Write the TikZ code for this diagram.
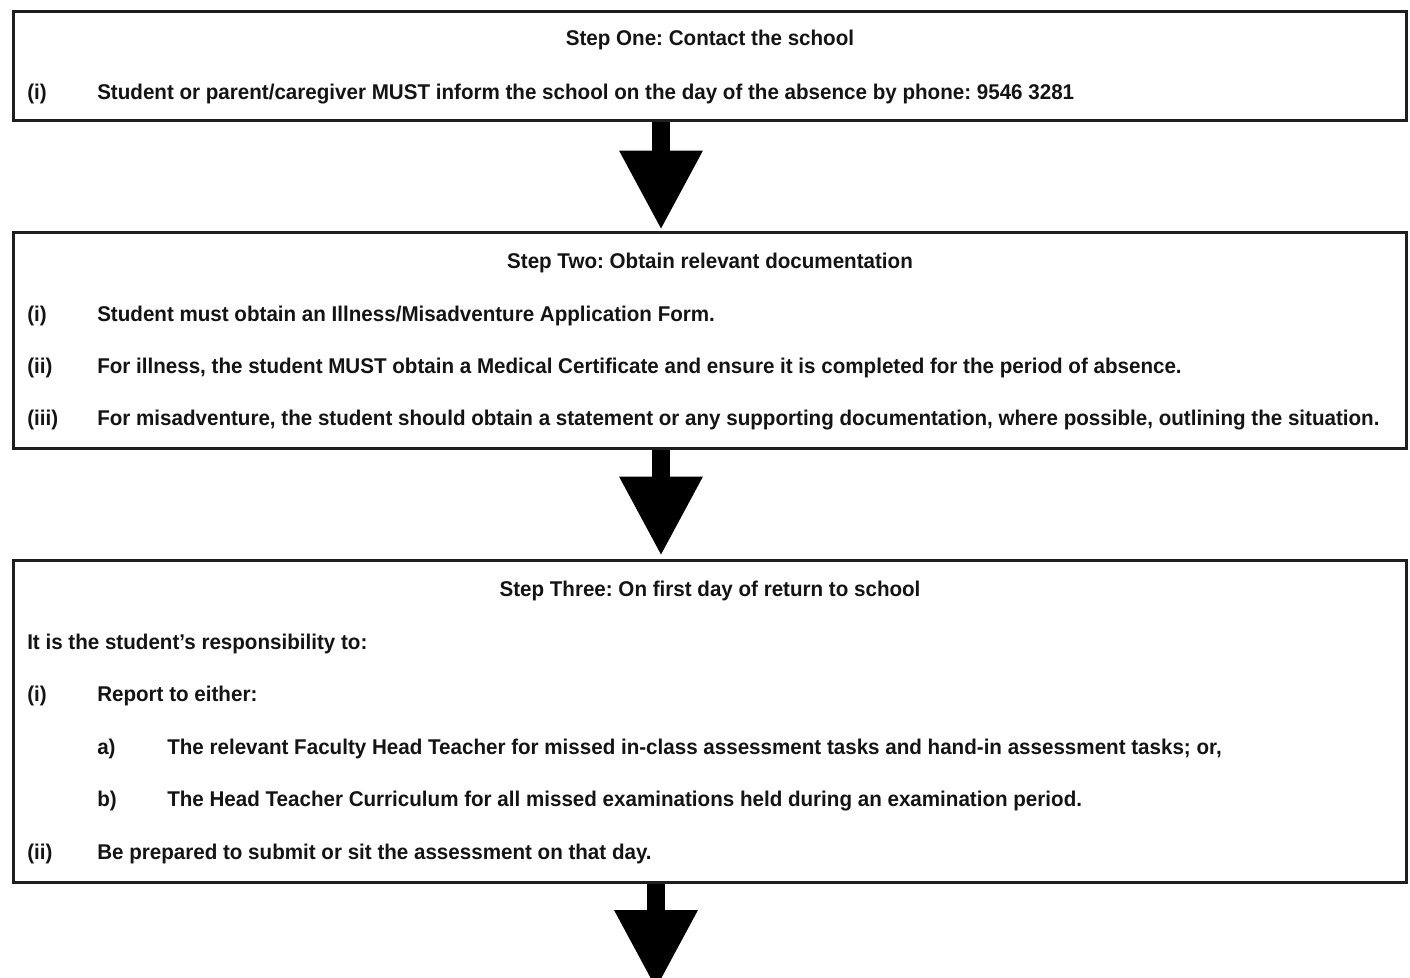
\documentclass[tikz,border=0pt]{standalone}
\usepackage{fontspec}
\setmainfont[FakeStretch=0.965]{Liberation Sans}
\usetikzlibrary{arrows.meta,backgrounds}
\frenchspacing
\begin{document}
\begin{tikzpicture}[x=0.75pt,y=-0.75pt,
  stepbox/.style={draw=black!88,line width=2.25pt,rectangle,inner sep=0pt,minimum width=1044.4pt},
  txt/.style={anchor=base west,inner sep=0pt,text=black!92,font=\fontsize{16}{19}\selectfont\bfseries\frenchspacing},
  ttl/.style={anchor=base,inner sep=0pt,text=black!92,font=\fontsize{16}{19}\selectfont\bfseries\frenchspacing},
  bigarrow/.style={line width=13.5pt,-{Triangle[length=58.5pt 0 0,width=63pt 0 0,line width=0pt 0 0]}}]
\useasboundingbox (0,0) rectangle (1410,978);
% boxes
\node[stepbox,minimum height=81.75pt] (box1) at (709.75,65.5) {};
\node[stepbox,minimum height=162pt] (box2) at (709.75,340) {};
\node[stepbox,minimum height=241.5pt] (box3) at (709.75,721) {};
\coordinate (end3) at (656,988);
% arrows
\begin{scope}[on background layer]
\fill[white] (0,0) rectangle (1410,978);
\draw[bigarrow] ([xshift=-36.56pt]box1.south) -- ([xshift=-36.56pt,yshift=1.5pt]box2.north);
\draw[bigarrow] ([xshift=-36.56pt]box2.south) -- ([xshift=-36.56pt,yshift=3pt]box3.north);
\draw[bigarrow] (box3.south -| end3) -- (end3);
\end{scope}
% box 1
\node[ttl] (t1) at (710,45.5) {Step One: Contact the school};
\node[txt] (l1a) at (27,99) {(i)};
\node[txt] (l1b) at (97,99) {Student or parent/caregiver MUST inform the school on the day of the absence by phone: 9546 3281};
% box 2
\node[ttl] (t2) at (710,268.5) {Step Two: Obtain relevant documentation};
\node[txt] (l2a) at (27,321) {(i)};
\node[txt] (l2b) at (97,321) {Student must obtain an Illness/Misadventure Application Form.};
\node[txt] (l2c) at (27,373) {(ii)};
\node[txt] (l2d) at (97,373) {For illness, the student MUST obtain a Medical Certificate and ensure it is completed for the period of absence.};
\node[txt] (l2e) at (27,425) {(iii)};
\node[txt] (l2f) at (97,425) {For misadventure, the student should obtain a statement or any supporting documentation, where possible, outlining the situation.};
% box 3
\node[ttl] (t3) at (710,596.5) {Step Three: On first day of return to school};
\node[txt] (l3a) at (27,649) {It is the student’s responsibility to:};
\node[txt] (l3b) at (27,701) {(i)};
\node[txt] (l3c) at (97,701) {Report to either:};
\node[txt] (l3d) at (97,754) {a)};
\node[txt] (l3e) at (167,754) {The relevant Faculty Head Teacher for missed in-class assessment tasks and hand-in assessment tasks; or,};
\node[txt] (l3f) at (97,806) {b)};
\node[txt] (l3g) at (167,806) {The Head Teacher Curriculum for all missed examinations held during an examination period.};
\node[txt] (l3h) at (27,859) {(ii)};
\node[txt] (l3i) at (97,859) {Be prepared to submit or sit the assessment on that day.};
\end{tikzpicture}
\end{document}
